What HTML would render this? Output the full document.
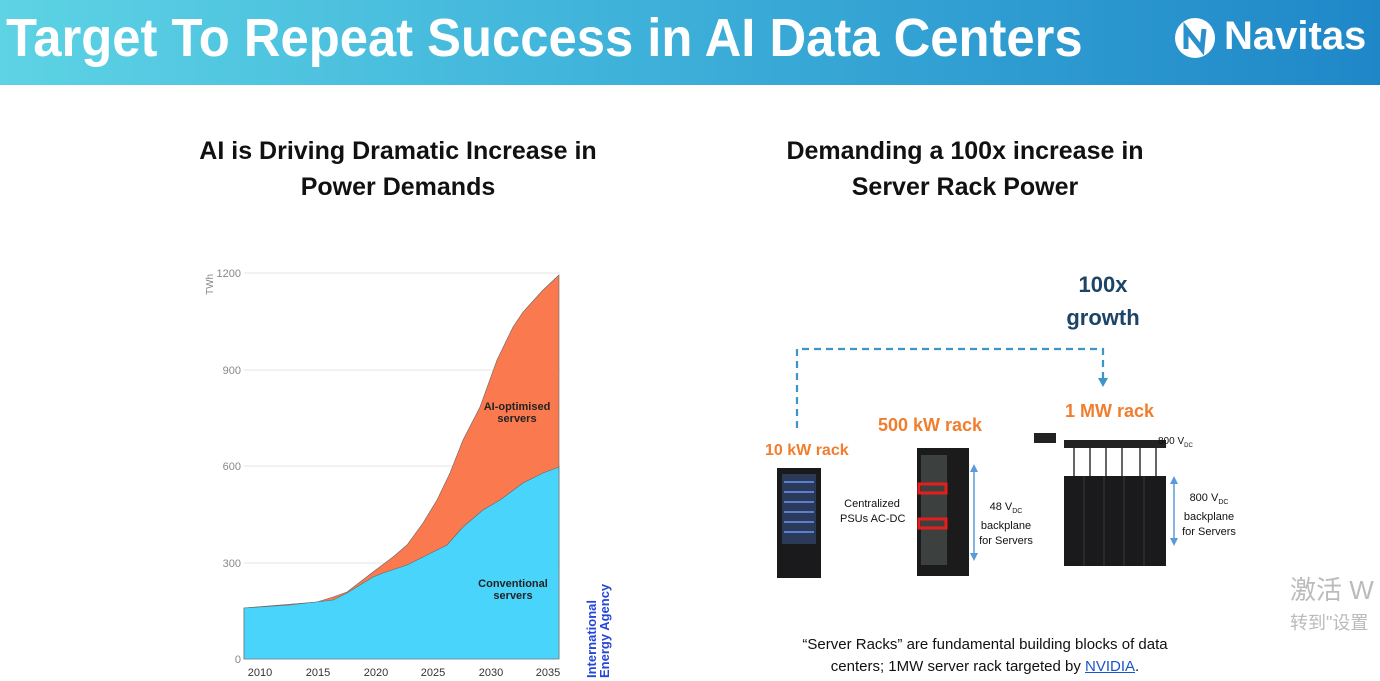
<!DOCTYPE html>
<html><head><meta charset="utf-8"><style>
body{margin:0;width:1380px;height:681px;overflow:hidden;background:#fff;font-family:"Liberation Sans","Noto Sans CJK SC",sans-serif;position:relative}
.hdr{position:absolute;left:0;top:0;width:1380px;height:85px;background:linear-gradient(90deg,#5dd3e4 0%,#3fb2da 45%,#1f87c8 100%)}
.t{position:absolute;white-space:nowrap}
</style></head><body>
<div class="hdr"></div>
<div class="t" style="left:6px;top:7px;font-size:54px;font-weight:bold;color:#fff;transform:scaleX(0.94);transform-origin:0 0">Target To Repeat Success in AI Data Centers</div>
<svg style="position:absolute;left:1172px;top:15px" width="46" height="46"><circle cx="23" cy="23" r="20" fill="#fff"/><path d="M14 34 L14 14 L30 34 L32 14" stroke="#2a90cc" stroke-width="5" fill="none"/></svg>
<div class="t" style="left:1224px;top:14px;font-size:40px;font-weight:bold;color:#fff">Navitas</div>

<div class="t" style="left:150px;top:133px;width:496px;text-align:center;font-size:25px;font-weight:bold;line-height:36px;color:#111">AI is Driving Dramatic Increase in<br>Power Demands</div>
<div class="t" style="left:740px;top:133px;width:450px;text-align:center;font-size:25px;font-weight:bold;line-height:36px;color:#111">Demanding a 100x increase in<br>Server Rack Power</div>

<svg style="position:absolute;left:0;top:0" width="1380" height="681">
<g stroke="#e4e4e4" stroke-width="1">
<line x1="244" y1="273" x2="560" y2="273"/><line x1="244" y1="370" x2="560" y2="370"/><line x1="244" y1="466" x2="560" y2="466"/><line x1="244" y1="563" x2="560" y2="563"/>
</g>
<g font-size="11" fill="#888" text-anchor="end" font-family="Liberation Sans">
<text x="241" y="277">1200</text><text x="241" y="374">900</text><text x="241" y="470">600</text><text x="241" y="567">300</text><text x="241" y="663">0</text>
</g>
<text transform="translate(213,295) rotate(-90)" font-size="10" fill="#888">TWh</text>
<path d="M244,608 L317,602 L333,597 L347,592 L373,572 L393,557 L407,545 L423,523 L437,500 L450,473 L463,440 L480,407 L497,360 L513,327 L523,312 L543,290 L559,275 L559,659 L244,659Z" fill="#fb794e" stroke="#666" stroke-width="0.6"/>
<path d="M244,608 L290,605 L333,600 L347,593 L373,577 L383,573 L407,565 L423,557 L447,545 L463,527 L483,510 L500,500 L523,483 L543,473 L559,467 L559,659 L244,659Z" fill="#48d4fb" stroke="#666" stroke-width="0.6"/>
<g font-size="11" fill="#222" font-weight="bold" text-anchor="middle" font-family="Liberation Sans">
<text x="517" y="410">AI-optimised</text><text x="517" y="422">servers</text>
<text x="513" y="587">Conventional</text><text x="513" y="599">servers</text>
</g>
<g font-size="11" fill="#333" text-anchor="middle" font-family="Liberation Sans">
<text x="260" y="676">2010</text><text x="318" y="676">2015</text><text x="376" y="676">2020</text><text x="433" y="676">2025</text><text x="491" y="676">2030</text><text x="548" y="676">2035</text>
</g>
<text transform="translate(596,678) rotate(-90)" font-size="13" font-weight="bold" fill="#2447d8">International</text>
<text transform="translate(609,678) rotate(-90)" font-size="13" font-weight="bold" fill="#2447d8">Energy Agency</text>

<g stroke="#3b95c9" stroke-width="2.2" stroke-dasharray="7,5" fill="none">
<path d="M797,428 L797,349 L1103,349 L1103,378"/>
</g>
<path d="M1098,378 L1108,378 L1103,387Z" fill="#3b95c9"/>

<rect x="777" y="468" width="44" height="110" fill="#1a1a1d"/>
<rect x="782" y="474" width="34" height="70" fill="#2c3a5a"/>
<g stroke="#5a7fd0" stroke-width="2"><line x1="784" y1="482" x2="814" y2="482"/><line x1="784" y1="492" x2="814" y2="492"/><line x1="784" y1="502" x2="814" y2="502"/><line x1="784" y1="512" x2="814" y2="512"/><line x1="784" y1="522" x2="814" y2="522"/><line x1="784" y1="532" x2="814" y2="532"/></g>
<rect x="917" y="448" width="52" height="128" fill="#1b1b1c"/>
<rect x="921" y="455" width="26" height="110" fill="#3c4140"/>
<rect x="919" y="484" width="27" height="9" fill="none" stroke="#e51d1d" stroke-width="3"/>
<rect x="919" y="519" width="27" height="9" fill="none" stroke="#e51d1d" stroke-width="3"/>
<line x1="974" y1="470" x2="974" y2="555" stroke="#5a9ad8" stroke-width="1.5"/>
<path d="M970,472 L978,472 L974,464Z M970,553 L978,553 L974,561Z" fill="#5a9ad8"/>
<rect x="1064" y="476" width="102" height="90" fill="#1a1a1c"/>
<rect x="1064" y="440" width="102" height="8" fill="#222"/>
<rect x="1034" y="433" width="22" height="10" fill="#222"/>
<g stroke="#333" stroke-width="1.5"><line x1="1074" y1="448" x2="1074" y2="476"/><line x1="1090" y1="448" x2="1090" y2="476"/><line x1="1106" y1="448" x2="1106" y2="476"/><line x1="1122" y1="448" x2="1122" y2="476"/><line x1="1140" y1="448" x2="1140" y2="476"/><line x1="1156" y1="448" x2="1156" y2="476"/></g>
<g stroke="#3a3a3e" stroke-width="1"><line x1="1084" y1="476" x2="1084" y2="566"/><line x1="1104" y1="476" x2="1104" y2="566"/><line x1="1124" y1="476" x2="1124" y2="566"/><line x1="1144" y1="476" x2="1144" y2="566"/></g>
<line x1="1174" y1="482" x2="1174" y2="540" stroke="#5a9ad8" stroke-width="1.5"/>
<path d="M1170,484 L1178,484 L1174,476Z M1170,538 L1178,538 L1174,546Z" fill="#5a9ad8"/>
</svg>

<div class="t" style="left:1063px;top:268px;width:80px;text-align:center;font-size:22px;font-weight:bold;color:#1c4466;line-height:33px">100x<br>growth</div>
<div class="t" style="left:765px;top:442px;font-size:16px;font-weight:bold;color:#f07e2e">10 kW rack</div>
<div class="t" style="left:878px;top:415px;font-size:18px;font-weight:bold;color:#f07e2e">500 kW rack</div>
<div class="t" style="left:1065px;top:401px;font-size:18px;font-weight:bold;color:#f07e2e">1 MW rack</div>
<div class="t" style="left:840px;top:497px;width:64px;text-align:center;font-size:11px;line-height:15px;color:#111">Centralized<br>PSUs AC-DC</div>
<div class="t" style="left:978px;top:500px;width:56px;text-align:center;font-size:11px;line-height:15px;color:#111">48 V<sub style="font-size:7px">DC</sub><br>backplane<br>for Servers</div>
<div class="t" style="left:1158px;top:436px;font-size:10px;color:#111">800 V<sub style="font-size:6px">DC</sub></div>
<div class="t" style="left:1180px;top:491px;width:58px;text-align:center;font-size:11px;line-height:15px;color:#111">800 V<sub style="font-size:7px">DC</sub><br>backplane<br>for Servers</div>
<div class="t" style="left:760px;top:634px;width:450px;text-align:center;font-size:15px;line-height:22px;color:#111">“Server Racks” are fundamental building blocks of data<br>centers; 1MW server rack targeted by <span style="color:#1a55c8;text-decoration:underline">NVIDIA</span>.</div>
<div class="t" style="left:1290px;top:570px;font-size:26px;color:#bbb">激活 W</div>
<div class="t" style="left:1290px;top:609px;font-size:18px;color:#bbb">转到"设置</div>
</body></html>
